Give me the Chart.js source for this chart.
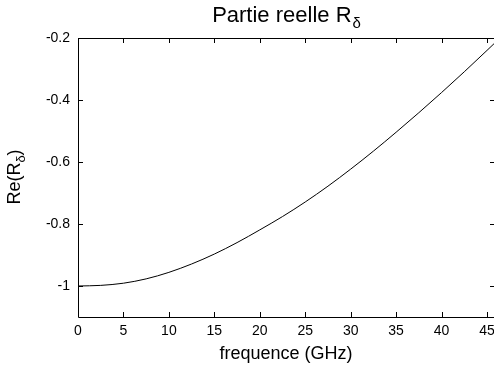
<!DOCTYPE html>
<html>
<head>
<meta charset="utf-8">
<script src="https://cdn.jsdelivr.net/npm/chart.js@4.4.0/dist/chart.umd.min.js"></script>
<style>
  html, body { margin: 0; padding: 0; background: #fff; overflow: hidden; }
  canvas { display: block; }
</style>
</head>
<body>
<canvas id="chart" width="494" height="369"></canvas>
<script>
// Data
const freq = [0, 2.5, 5, 7.5, 10, 12.5, 15, 17.5, 20, 22.5, 25, 27.5, 30, 32.5, 35, 37.5, 40, 42.5, 45, 46];
const reR  = [-1.0, -0.998, -0.991, -0.977, -0.956, -0.929, -0.897, -0.860, -0.819, -0.776, -0.729, -0.678,
              -0.623, -0.565, -0.504, -0.441, -0.376, -0.309, -0.240, -0.212];
const xTicks = [0, 5, 10, 15, 20, 25, 30, 35, 40, 45];
const yTicks = [-1, -0.8, -0.6, -0.4, -0.2];

const FONT = 'Liberation Sans, Arial, sans-serif';

// box (right side is cut off in the original), inward ticks, subscripted labels
const framePlugin = {
    id: 'frame',
    afterDraw(chart) {
        const { ctx, chartArea: a, scales } = chart;
        ctx.save();
        ctx.strokeStyle = '#000';
        ctx.lineWidth = 1;
        ctx.beginPath();
        ctx.moveTo(a.right, a.top + 0.5);
        ctx.lineTo(a.left + 0.5, a.top + 0.5);
        ctx.lineTo(a.left + 0.5, a.bottom + 0.5);
        ctx.lineTo(a.right, a.bottom + 0.5);
        xTicks.forEach(v => {
            const x = Math.round(scales.x.getPixelForValue(v)) + 0.5;
            ctx.moveTo(x, a.bottom); ctx.lineTo(x, a.bottom - 5);
            ctx.moveTo(x, a.top); ctx.lineTo(x, a.top + 5);
        });
        yTicks.forEach(v => {
            const y = Math.round(scales.y.getPixelForValue(v)) + 0.5;
            ctx.moveTo(a.left, y); ctx.lineTo(a.left + 5, y);
            ctx.moveTo(a.right, y); ctx.lineTo(a.right - 4, y);
        });
        ctx.stroke();

        ctx.fillStyle = '#000';
        ctx.textBaseline = 'alphabetic';
        // title
        const t = 'Partie reelle R';
        ctx.font = '22px ' + FONT;
        const w1 = ctx.measureText(t).width;
        ctx.font = '15px ' + FONT;
        const w2 = ctx.measureText('δ').width;
        const x0 = 286 - (w1 + w2) / 2;
        ctx.font = '22px ' + FONT;
        ctx.fillText(t, x0, 22);
        ctx.font = '15px ' + FONT;
        ctx.fillText('δ', x0 + w1 + 1, 28);

        // y title
        ctx.translate(20, 177);
        ctx.rotate(-Math.PI / 2);
        ctx.font = '18px ' + FONT;
        const y1 = ctx.measureText('Re(R').width;
        ctx.font = '13px ' + FONT;
        const y2 = ctx.measureText('δ').width;
        ctx.font = '18px ' + FONT;
        const y3 = ctx.measureText(')').width;
        const s = -(y1 + y2 + y3) / 2;
        ctx.fillText('Re(R', s, 0);
        ctx.font = '13px ' + FONT;
        ctx.fillText('δ', s + y1, 5);
        ctx.font = '18px ' + FONT;
        ctx.fillText(')', s + y1 + y2, 0);
        ctx.restore();
    }
};

new Chart(document.getElementById('chart'), {
    type: 'line',
    data: {
        datasets: [{
            data: freq.map((f, i) => ({ x: f, y: reR[i] })),
            borderColor: '#000',
            borderWidth: 1,
            pointRadius: 0,
            cubicInterpolationMode: 'monotone',
            fill: false
        }]
    },
    options: {
        responsive: false,
        animation: false,
        layout: { padding: { top: 38, right: 0, left: 0, bottom: 0 } },
        plugins: { legend: { display: false }, title: { display: false }, tooltip: { enabled: false } },
        scales: {
            x: {
                type: 'linear',
                min: 0,
                max: 45.77,
                afterBuildTicks: s => { s.ticks = xTicks.map(v => ({ value: v })); },
                afterFit: s => { s.height = 52; s.paddingLeft = 0; s.paddingRight = 0; },
                grid: { display: false, drawTicks: false },
                border: { display: false },
                ticks: { color: '#000', font: { family: FONT, size: 14 }, padding: 6, maxRotation: 0 },
                title: { display: true, text: 'frequence (GHz)', color: '#000',
                         font: { family: FONT, size: 18 }, padding: { top: 0 } }
            },
            y: {
                type: 'linear',
                min: -1.1,
                max: -0.2,
                afterBuildTicks: s => { s.ticks = yTicks.map(v => ({ value: v })); },
                afterFit: s => { s.width = 78; s.paddingTop = 0; s.paddingBottom = 0; },
                grid: { display: false, drawTicks: false },
                border: { display: false },
                ticks: { color: '#000', font: { family: FONT, size: 14 }, padding: 8,
                         callback: v => String(Math.round(v * 10) / 10) }
            }
        }
    },
    plugins: [framePlugin]
});
</script>
</body>
</html>
